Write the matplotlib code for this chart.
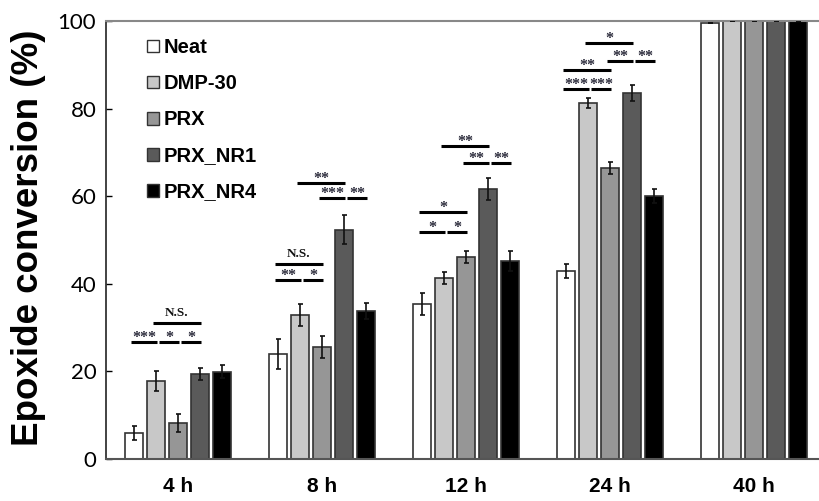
import matplotlib
matplotlib.use("Agg")
import matplotlib.pyplot as plt
from matplotlib.patches import Patch
import numpy as np

# ---- data ----
time_labels = ["4 h", "8 h", "12 h", "24 h", "40 h"]
series_names = ["Neat", "DMP-30", "PRX", "PRX_NR1", "PRX_NR4"]
neat = [5.9, 24.0, 35.4, 42.9, 99.5]
dmp30 = [17.8, 32.9, 41.3, 81.3, 100.0]
prx = [8.2, 25.6, 46.1, 66.4, 100.0]
prx_nr1 = [19.4, 52.3, 61.6, 83.6, 100.0]
prx_nr4 = [19.9, 33.8, 45.2, 60.0, 100.0]
neat_err = [1.6, 3.4, 2.5, 1.6, 0.0]
dmp30_err = [2.3, 2.5, 1.4, 1.1, 0.0]
prx_err = [2.0, 2.5, 1.4, 1.4, 0.0]
prx_nr1_err = [1.3, 3.3, 2.5, 1.8, 0.0]
prx_nr4_err = [1.5, 1.8, 2.2, 1.6, 0.0]
y_ticks = [0, 20, 40, 60, 80, 100]

# significance annotations: (group, bar_i, bar_j, level, label)
sig_group = [0, 0, 0, 0, 1, 1, 1, 1, 1, 1, 2, 2, 2, 2, 2, 2, 3, 3, 3, 3, 3, 3]
sig_i = [0, 1, 2, 1, 0, 1, 0, 1, 2, 3, 0, 1, 0, 1, 2, 3, 0, 1, 0, 2, 3, 1]
sig_j = [1, 2, 3, 3, 1, 2, 2, 3, 3, 4, 1, 2, 2, 3, 3, 4, 1, 2, 2, 3, 4, 3]
sig_level = [26.8, 26.8, 26.8, 31.1, 40.9, 40.9, 44.5, 62.9, 59.6, 59.6,
             51.9, 51.9, 56.3, 71.5, 67.6, 67.6, 84.5, 84.5, 88.7, 90.9, 90.9, 94.9]
sig_label = ["***", "*", "*", "N.S.", "**", "*", "N.S.", "**", "***", "**",
             "*", "*", "*", "**", "**", "**", "***", "***", "**", "**", "**", "*"]

values = [neat, dmp30, prx, prx_nr1, prx_nr4]
errors = [neat_err, dmp30_err, prx_err, prx_nr1_err, prx_nr4_err]
colors = ["#ffffff", "#c8c8c8", "#969696", "#5a5a5a", "#000000"]

# ---- figure ----
fig = plt.figure(figsize=(8.2, 5.01), dpi=100)
ax = fig.add_axes([106 / 820, 42 / 501, 714 / 820, 438 / 501])

step = 22 / 144
width = 18 / 144
x = np.arange(len(time_labels))
for k in range(len(series_names)):
    ax.bar(x + (k - 2) * step, values[k], width=width, color=colors[k],
           edgecolor="#333333", linewidth=1.2, zorder=2)
    ax.errorbar(x + (k - 2) * step, values[k], yerr=errors[k], fmt="none",
                ecolor="#111111", elinewidth=1.2, capsize=1.8, capthick=1.2, zorder=3)

# significance lines
px = 1 / 144
for n in range(len(sig_label)):
    g, i, j, lv, lab = sig_group[n], sig_i[n], sig_j[n], sig_level[n], sig_label[n]
    shared = any(sig_group[m] == g and sig_level[m] == lv and sig_j[m] == i
                 for m in range(len(sig_label)))
    x0 = g + (i - 2) * step + (3 * px if shared else -3 * px)
    x1 = g + (j - 2) * step + 1 * px
    ax.plot([x0, x1], [lv, lv], color="black", linewidth=2.2,
            solid_capstyle="butt", zorder=4)
    if lab == "N.S.":
        ax.annotate(lab, ((x0 + x1) / 2, lv), xytext=(0, 5), textcoords="offset points",
                    ha="center", va="baseline", fontsize=9.5, fontweight="bold",
                    family="Liberation Serif", color="#111111")
    else:
        ax.annotate(lab, ((x0 + x1) / 2, lv), xytext=(0, 0), textcoords="offset points",
                    ha="center", va="baseline", fontsize=11.5, fontweight="bold",
                    family="Liberation Serif", color="#2a2a3a")

ax.set_xlim(-0.5, 4.458)
ax.set_ylim(0, 100)
ax.set_yticks(y_ticks)
ax.set_yticklabels([str(t) for t in y_ticks], fontsize=16, family="Lato")
ax.set_xticks(x)
ax.set_xticklabels(time_labels, fontsize=15, fontweight="bold", family="Liberation Sans")
ax.tick_params(axis="y", direction="in", length=4, width=1, pad=7, colors="black")
ax.tick_params(axis="x", length=0, pad=13)

ax.spines["right"].set_visible(False)
ax.spines["top"].set_color("#888888")
ax.spines["top"].set_linewidth(1.5)
ax.spines["left"].set_color("#222222")
ax.spines["left"].set_linewidth(1.2)
ax.spines["bottom"].set_color("#555555")
ax.spines["bottom"].set_linewidth(1.5)

fig.text(29 / 820, 1 - 238 / 501, "Epoxide conversion (%)", rotation=90,
         ha="center", va="center", fontsize=26.5, fontweight="bold",
         family="Liberation Sans")

handles = [Patch(facecolor=colors[k], edgecolor="#333333", linewidth=1.0)
           for k in range(len(series_names))]
leg = ax.legend(handles, series_names, loc="upper left",
                bbox_to_anchor=(147 / 820, 1 - 38 / 501), bbox_transform=fig.transFigure,
                frameon=False, handlelength=0.6, handleheight=0.6,
                handletextpad=0.25, labelspacing=0.85, borderaxespad=0, borderpad=0,
                prop={"family": "Liberation Sans", "weight": "bold", "size": 14.5})

fig.savefig("out.png", dpi=100)
